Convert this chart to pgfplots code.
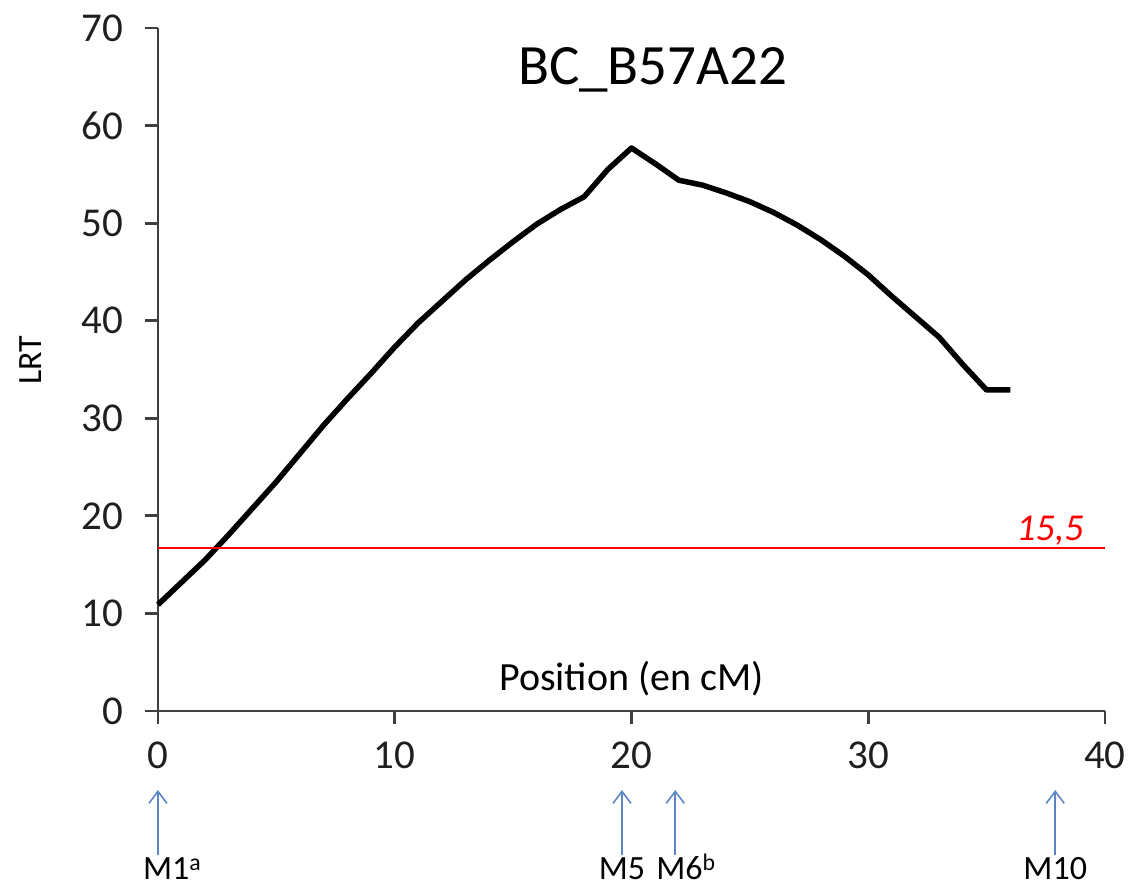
\documentclass[border=0pt]{standalone}
\usepackage{fontspec}
\setmainfont{Carlito}
\usepackage{pgfplots}
\pgfplotsset{compat=1.18}
\usetikzlibrary{arrows.meta}
\definecolor{arrowblue}{RGB}{91,134,196}
\definecolor{axisgray}{RGB}{64,64,64}

\begin{document}
\begin{tikzpicture}
\begin{axis}[
  scale only axis, width=947pt, height=683pt,
  xmin=0, xmax=40, ymin=0, ymax=70,
  axis lines=left,
  axis line style={-, line width=2.8pt, axisgray},
  xtick={0,10,...,40}, ytick={0,10,...,70},
  tick align=outside, major tick length=13pt,
  tick style={line width=2.8pt, axisgray},
  ticklabel style={font=\fontsize{41}{44}\selectfont, text=black!88},
  /pgf/number format/assume math mode=true,
  xticklabel style={yshift=-14pt},
  yticklabel style={xshift=-18pt},
  clip=false,
]
% LRT profile
\addplot[black, line width=5.5pt, line join=round] coordinates {
 (0,10.9) (1,13.2) (2,15.5) (3,18.1) (4,20.8) (5,23.5) (6,26.4) (7,29.3)
 (8,32.0) (9,34.6) (10,37.3) (11,39.8) (12,42.0) (13,44.2) (14,46.2)
 (15,48.1) (16,49.9) (17,51.4) (18,52.7) (19,55.5) (20,57.7) (21,56.1)
 (22,54.4) (23,53.9) (24,53.1) (25,52.2) (26,51.1) (27,49.8) (28,48.3)
 (29,46.6) (30,44.7) (31,42.5) (32,40.4) (33,38.3) (34,35.5) (35,32.9) (36,32.9)
};
% threshold
\addplot[red, line width=2pt] coordinates {(0,16.7) (40,16.7)};
\node[anchor=base east, text=red, font=\fontsize{38}{40}\selectfont\itshape] at (axis cs:39.25,17.5) {15,5};

\node[font=\fontsize{57}{60}\selectfont] at (axis cs:20.9,65.7) {BC\_B57A22};
\node[font=\fontsize{40}{44}\selectfont] at (axis cs:20,3.3) {Position (en cM)};
\node[rotate=90, font=\fontsize{34}{38}\selectfont] at (rel axis cs:-0.135,0.514) {LRT};

% markers
\pgfplotsset{markarrow/.style={arrowblue, line width=1.6pt, -{Straight Barb[length=12pt,width=18pt,line width=1.6pt]}}}
\addplot[markarrow] coordinates {(0,-14.8) (0,-8.1)};
\addplot[markarrow] coordinates {(19.6,-14.8) (19.6,-8.1)};
\addplot[markarrow] coordinates {(21.85,-14.8) (21.85,-8.1)};
\addplot[markarrow] coordinates {(37.9,-14.8) (37.9,-8.1)};
\begin{scope}[every node/.style={font=\fontsize{34}{38}\selectfont, anchor=base, inner sep=0pt}]
\node at (axis cs:0.6,-17.3) {M1\textsuperscript{a}};
\node at (axis cs:19.6,-17.3) {M5};
\node at (axis cs:22.3,-17.3) {M6\textsuperscript{b}};
\node at (axis cs:37.9,-17.3) {M10};
\end{scope}

\coordinate (bl) at (rel axis cs:-0.1668,-0.2621);
\coordinate (tr) at (rel axis cs:1.0243,1.041);
\end{axis}
\pgfresetboundingbox
\useasboundingbox (bl) rectangle (tr);
\end{tikzpicture}
\end{document}
